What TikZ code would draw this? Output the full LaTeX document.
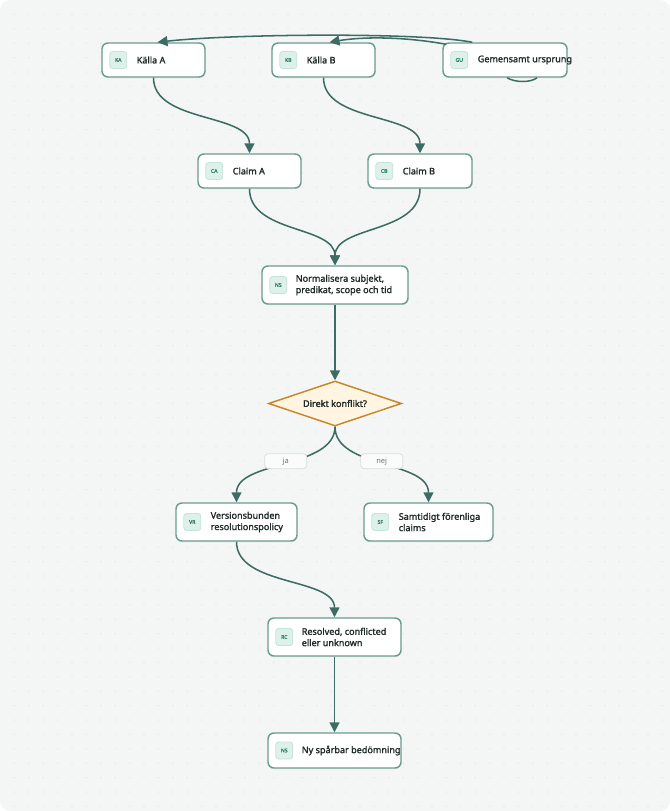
\documentclass[tikz,border=0pt]{standalone}
\usepackage{fontspec}
\setmainfont{Noto Sans}
\newfontfamily\heavyfont{Noto Sans}[FakeBold=1.6]
\usepackage{tikz}
\usetikzlibrary{calc}
\usetikzlibrary{shapes.geometric}
\usetikzlibrary{arrows.meta}
\usetikzlibrary{shadows}
\definecolor{bgc}{HTML}{F4F6F5}
\definecolor{dotc}{HTML}{D9DEDB}
\definecolor{boxline}{HTML}{6A9B90}
\definecolor{edgec}{HTML}{3C6C63}
\definecolor{badgefill}{HTML}{DDF1EA}
\definecolor{badgeline}{HTML}{C4E4D9}
\definecolor{badgetext}{HTML}{2E7E69}
\definecolor{txtc}{HTML}{1F2928}
\definecolor{decfill}{HTML}{FFF5E1}
\definecolor{decline}{HTML}{C8872C}
\definecolor{lblline}{HTML}{D6DFDB}
\definecolor{lbltext}{HTML}{6C7571}
\tikzset{every picture/.style={line width=0.75pt}}
\tikzset{
  box/.style={draw=boxline, fill=white, line width=1.1pt, rounded corners=4.5pt,
    minimum height=25.5pt, inner sep=0pt,
    drop shadow={opacity=0.08, shadow xshift=0.4pt, shadow yshift=-1pt}},
  badge/.style={draw=badgeline, fill=badgefill, line width=0.6pt, rounded corners=2.2pt,
    minimum size=12.75pt, inner sep=0pt, text=badgetext, font=\heavyfont\fontsize{3.8}{4}\selectfont},
  txt/.style={anchor=west, inner sep=0pt, align=left, text=txtc,
    font=\heavyfont\fontsize{6.8}{8.5}\selectfont},
  decision/.style={diamond, draw=decline, fill=decfill, line width=1.1pt, aspect=2.95,
    minimum width=99.75pt, minimum height=33.75pt, inner sep=0pt, text=txtc,
    font=\heavyfont\fontsize{6.8}{8.5}\selectfont},
  edgelbl/.style={draw=lblline, fill=white!60!bgc, line width=0.6pt, rounded corners=2.5pt,
    minimum width=31.5pt, minimum height=11.25pt, inner sep=0pt, text=lbltext,
    font=\fontsize{5.6}{6}\selectfont},
  flow/.style={draw=edgec, line width=1.15pt, -{Triangle[length=7.5pt,width=7.5pt]}}
}

\begin{document}
\begin{tikzpicture}[x=0.75pt,y=0.75pt,yscale=-1,xscale=1]
\useasboundingbox (0,0) rectangle (670,811);

%Shape: Background
\fill[bgc, rounded corners=7.5pt] (0,0) rectangle (670,811);
\foreach \i in {1,...,46}
  \foreach \j in {1,...,56}
    \fill[dotc] (\i*14.4,\j*14.4) circle (0.45pt);

%Shape: Sources
\node[box, minimum width=77.25pt] (ka) at (153.5,60) {};
\node[box, minimum width=77.25pt] (kb) at (323.5,60) {};
\node[box, minimum width=93pt] (gu) at (505,60) {};
%Shape: Claims
\node[box, minimum width=77.25pt] (ca) at (249.5,171) {};
\node[box, minimum width=78pt] (cb) at (420,171) {};
%Shape: Normalisering
\node[box, minimum width=109.5pt, minimum height=28.5pt] (ns) at (335,285) {};
%Shape: Decision
\node[decision] (dk) at (335,403.5) {Direkt konflikt?};
%Shape: Outcomes
\node[box, minimum width=90.75pt, minimum height=28.5pt] (vr) at (236.5,522) {};
\node[box, minimum width=96.75pt, minimum height=28.5pt] (sf) at (428.5,522) {};
\node[box, minimum width=99.75pt, minimum height=28.5pt] (rc) at (334.5,637) {};
\node[box, minimum width=99.75pt, minimum height=26.25pt] (nb) at (334.5,750.5) {};

% Badges
\node[badge] (kab) at ($(ka.west)+(17,0)$) {KA};
\node[badge] (kbb) at ($(kb.west)+(17,0)$) {KB};
\node[badge] (gub) at ($(gu.west)+(17,0)$) {GU};
\node[badge] (cab) at ($(ca.west)+(17,0)$) {CA};
\node[badge] (cbb) at ($(cb.west)+(17,0)$) {CB};
\node[badge] (nsb) at ($(ns.west)+(17,0)$) {NS};
\node[badge] (vrb) at ($(vr.west)+(17,0)$) {VR};
\node[badge] (sfb) at ($(sf.west)+(17,0)$) {SF};
\node[badge] (rcb) at ($(rc.west)+(17,0)$) {RC};
\node[badge] (nbb) at ($(nb.west)+(17,0)$) {NS};

% Text Node
\node[txt] (kat) at ($(ka.west)+(35,0)$) {Källa A};
\node[txt] (kbt) at ($(kb.west)+(35,0)$) {Källa B};
\node[txt] (gut) at ($(gu.west)+(35,0)$) {Gemensamt ursprung};
\node[txt] (cat) at ($(ca.west)+(35,0)$) {Claim A};
\node[txt] (cbt) at ($(cb.west)+(35,0)$) {Claim B};
\node[txt] (nst) at ($(ns.west)+(34,0)$) {Normalisera subjekt,\\predikat, scope och tid};
\node[txt] (vrt) at ($(vr.west)+(35,0)$) {Versionsbunden\\resolutionspolicy};
\node[txt] (sft) at ($(sf.west)+(35,0)$) {Samtidigt förenliga\\claims};
\node[txt] (rct) at ($(rc.west)+(34,0)$) {Resolved, conflicted\\eller unknown};
\node[txt] (nbt) at ($(nb.west)+(34,0)$) {Ny spårbar bedömning};

% Connectors
\coordinate (gua) at ($(gu.north west)+(30,0)$);
\coordinate (gub2) at ($(gu.north west)+(4,2)$);
\coordinate (gul1) at ($(gu.south)+(2,0)$);
\coordinate (gul2) at ($(gu.south)+(32,0)$);
\draw[flow] (gua) .. controls (420,32) and (230,34) .. ($(ka.north)+(4,0)$);
\draw[flow] (gub2) .. controls (400,36) and (360,37) .. ($(kb.north)+(6,0)$);
\draw[draw=edgec, line width=1.1pt] (gul1) .. controls +(8,5) and +(-6,5) .. (gul2);
\draw[flow] (ka.south) .. controls +(0,45) and +(0,-40) .. (ca.north);
\draw[flow] (kb.south) .. controls +(0,45) and +(0,-40) .. (cb.north);
\draw[flow] (ca.south) .. controls +(0,45) and +(0,-40) .. (ns.north);
\draw[flow] (cb.south) .. controls +(0,45) and +(0,-40) .. (ns.north);
\draw[flow] (ns.south) -- (dk.north);
\draw[flow] (dk.south) .. controls +(0,42) and +(0,-42) .. node[edgelbl, pos=0.5, yshift=2.5pt] (ja) {ja} (vr.north);
\draw[flow] (dk.south) .. controls +(0,42) and +(0,-42) .. node[edgelbl, pos=0.5, yshift=2.5pt] (nej) {nej} (sf.north);
\draw[flow] (vr.south) .. controls +(0,45) and +(0,-40) .. (rc.north);
\draw[flow] (rc.south) -- (nb.north);

\end{tikzpicture}
\end{document}
